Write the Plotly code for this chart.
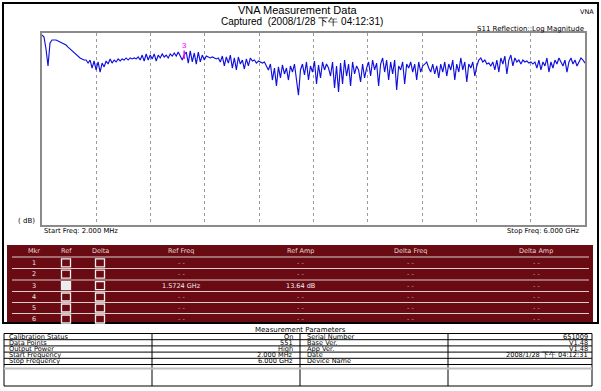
import numpy as np
import plotly.graph_objects as go

W, H = 601, 391

# ---------------- data ----------------
start_mhz = 2.0
stop_mhz = 6000.0
# S11 (return loss, dB), roughly every 2nd sweep point
s11_db = [
    1.2, 2.5, 10.0, 20.6, 6.2, 4.4,
    4.4, 4.4, 5.0, 5.6, 6.2, 6.9, 7.5, 8.8, 10.0, 11.2, 12.5, 13.8, 15.0,
    15.6, 16.2, 16.9, 16.9,
    18.8, 16.9, 21.9, 17.5, 23.1, 18.1, 24.4, 18.8, 21.2, 17.5,
    19.4, 16.2, 18.8, 16.9, 18.1, 16.2, 17.5, 16.2, 16.9, 15.6, 16.9, 15.6, 16.2, 15.6, 16.2, 15.0,
    16.9, 13.8, 17.5, 13.1, 16.9, 13.8, 16.2, 13.1, 17.5, 13.8, 15.6, 13.1, 15.0, 13.8, 15.6, 13.1, 14.4, 12.5, 14.4, 11.9,
    14.4, 16.9, 13.6, 11.9, 18.8, 11.2, 18.1, 12.5, 19.4, 11.9, 18.1, 13.8, 16.9, 14.4,
    15.0, 15.6, 15.0, 15.6, 16.2, 15.6,
    18.1, 14.4, 20.6, 15.0, 18.8, 13.8, 21.9, 15.6, 23.1, 15.0, 19.4, 16.9, 22.5, 16.2, 20.6, 15.6,
    17.5, 16.9, 18.8, 17.5, 18.1, 18.8, 18.1,
    20.6, 23.1, 19.4, 29.4, 21.9, 33.1, 21.2, 28.1, 20.0, 25.6, 21.9, 29.4, 20.6, 24.4, 19.4, 30.6, 38.8, 23.1,
    19.4, 26.2, 18.1, 29.4, 20.6, 24.4, 17.5, 31.9, 20.0, 28.1, 18.1, 23.1, 19.4, 21.9, 26.9, 18.1, 34.4,
    20.6, 36.9, 18.8, 31.9, 16.9, 26.9, 19.4, 33.1, 18.1, 25.6, 20.6, 23.1, 30.6, 19.4, 28.1, 21.9,
    18.1, 26.9, 16.9, 23.1, 18.8, 33.1, 19.4, 15.6, 24.4, 16.9, 29.4, 18.1, 25.6, 16.9, 35.6, 20.6,
    23.1, 18.1, 31.9, 19.4, 21.9, 18.1, 24.4, 19.4, 29.4, 18.1, 24.4, 20.6,
    19.4, 18.1, 21.9, 24.4, 19.4, 25.6, 20.6, 28.1, 19.4, 24.4, 18.1, 26.9, 19.4, 23.1, 16.9, 29.4,
    19.4, 24.4, 15.6, 23.1, 18.1, 30.6, 19.4, 21.9, 18.1, 26.9, 20.6,
    16.9, 15.6, 18.1, 16.9, 19.4, 18.8, 20.6, 18.1, 23.1, 16.9, 24.4, 15.6, 19.4, 14.4, 25.6, 16.9,
    13.8, 20.6, 15.6, 18.1, 16.9, 19.4, 16.9, 18.1, 17.5, 18.8, 18.1,
    19.4, 18.1, 21.9, 16.9, 23.1, 18.1, 20.6, 15.6, 24.4, 18.1, 21.9, 16.9, 19.4, 15.6, 18.1, 20.6,
    16.9, 24.4, 18.1, 15.6, 19.4, 16.9, 20.6, 18.1, 15.6, 16.9, 18.8,
]

marker_ids = ["1", "2", "3", "4", "5", "6"]
marker_ref_on = [False, False, True, False, False, False]
marker_delta_on = [False, False, False, False, False, False]
marker_ref_freq = ["- -", "- -", "1.5724 GHz", "- -", "- -", "- -"]
marker_ref_amp = ["- -", "- -", "13.64 dB", "- -", "- -", "- -"]
marker_delta_freq = ["- -", "- -", "- -", "- -", "- -", "- -"]
marker_delta_amp = ["- -", "- -", "- -", "- -", "- -", "- -"]
active_marker_label = "3"
active_marker_mhz = 1572.4
active_marker_db = 13.64

marker_headers = ["Mkr", "Ref", "Delta", "Ref Freq", "Ref Amp", "Delta Freq", "Delta Amp"]

param_left_labels = ["Calibration Status", "Data Points", "Output Power", "Start Frequency", "Stop Frequency"]
param_left_values = ["On", "551", "High", "2.000 MHz", "6.000 GHz"]
param_right_labels = ["Serial Number", "Base Ver.", "App Ver.", "Date", "Device Name"]
param_right_values = ["651009", "V1.48", "V1.48", "2008/1/28 下午 04:12:31", ""]

FONT = "Liberation Sans, Arial, sans-serif"
FONT_W = "DejaVu Sans, Verdana, sans-serif"


def px(x):
    return x / W


def py(y):
    return 1 - y / H


def txt(x, y, s, size=8, color="black", anchor="center", family=FONT):
    return dict(x=px(x), y=py(y), xref="paper", yref="paper", text=s, showarrow=False,
                xanchor=anchor, yanchor="middle", borderpad=0,
                font=dict(size=size, color=color, family=family))


def rect(x0, y0, x1, y1, line_color="black", width=1, fill=None):
    d = dict(type="rect", xref="paper", yref="paper", x0=px(x0), x1=px(x1), y0=py(y1), y1=py(y0),
             line=dict(color=line_color, width=width))
    if fill:
        d["fillcolor"] = fill
    if width == 0:
        d["line"] = dict(width=0)
    return d


def hline(x0, x1, y, color="black", width=1):
    return dict(type="line", xref="paper", yref="paper", x0=px(x0), x1=px(x1), y0=py(y), y1=py(y),
                line=dict(color=color, width=width))


def vline(x, y0, y1, color="black", width=1):
    return dict(type="line", xref="paper", yref="paper", x0=px(x), x1=px(x), y0=py(y0), y1=py(y1),
                line=dict(color=color, width=width))


freq_mhz = np.linspace(start_mhz, stop_mhz, len(s11_db))

fig = go.Figure()
fig.add_trace(go.Scatter(x=freq_mhz, y=s11_db, mode="lines",
                         line=dict(color="#1010dc", width=1.15), hoverinfo="skip", showlegend=False))
fig.add_trace(go.Scatter(x=[active_marker_mhz], y=[active_marker_db], mode="markers+text",
                         text=[active_marker_label], textposition="top center",
                         textfont=dict(color="#ff00ff", size=8, family=FONT),
                         marker=dict(symbol="line-ns", size=6, line=dict(color="#ff00ff", width=1.5)),
                         hoverinfo="skip", showlegend=False))

shapes = []
ann = []

# outer frame
shapes.append(rect(3, 3, 598, 323, "black", 2))

# header texts
ann.append(txt(297, 10, "VNA Measurement Data", 11))
ann.append(txt(302, 21, "Captured  (2008/1/28 下午 04:12:31)", 10))
ann.append(txt(595, 12, "VNA", 6.5, anchor="right", family=FONT_W))
ann.append(txt(585, 29, "S11 Reflection::Log Magnitude", 7, anchor="right", family=FONT_W))
ann.append(txt(26, 221, "( dB)", 7, family=FONT_W))
ann.append(txt(43, 231, "Start Freq: 2.000 MHz", 6.8, anchor="left", family=FONT_W))
ann.append(txt(581, 231, "Stop Freq: 6.000 GHz", 6.8, anchor="right", family=FONT_W))

# marker table
shapes.append(rect(7, 245, 593, 322, width=0, fill="#6a0a12"))
col_x = [34, 66, 100, 181, 300, 411, 536]
for cx, h in zip(col_x, marker_headers):
    ann.append(txt(cx, 250.5, h, 6.5, "#e4d8d8", family=FONT_W))
row_lines = [257, 268.5, 280, 291.5, 302.5, 313.5]
for yl in row_lines:
    shapes.append(hline(12, 589, yl, "#d8cccc", 1))
row_c = [262.8, 274.2, 285.7, 297, 308, 319]
for i, yc in enumerate(row_c):
    ann.append(txt(col_x[0], yc, marker_ids[i], 6.5, "#ece4e4", family=FONT_W))
    for bx, on in ((col_x[1], marker_ref_on[i]), (col_x[2], marker_delta_on[i])):
        shapes.append(rect(bx - 4.5, yc - 4, bx + 4.5, yc + 4, "#f4f0f0", 1.3,
                           fill="#ececec" if on else None))
    for cx, vals in zip(col_x[3:], (marker_ref_freq, marker_ref_amp, marker_delta_freq, marker_delta_amp)):
        v = vals[i]
        ann.append(txt(cx, yc, v, 6.5, "#c8b4b4" if v.strip() == "- -" else "#f4ecec", family=FONT_W))
# cover under frame bottom
shapes.append(rect(0, 324, 601, 326, width=0, fill="white"))

# parameter table
ann.append(txt(300, 329.5, "Measurement Parameters", 7, family=FONT_W))
top, step = 333.5, 6.2
shapes.append(rect(4, top, 592, 386, "black", 1))
for xv in (152, 300, 448):
    shapes.append(vline(xv, top, 386, "black", 1))
for k in range(1, 6):
    shapes.append(hline(4, 592, top + step * k, "black", 1))
shapes.append(hline(4, 592, top + step * 5 + 4, "#bdbdbd", 2))
for i in range(len(param_left_labels)):
    yc = top + step * (i + 0.5)
    ann.append(txt(8, yc, param_left_labels[i], 6.6, anchor="left", family=FONT_W))
    ann.append(txt(294, yc, param_left_values[i], 6.6, anchor="right", family=FONT_W))
    ann.append(txt(306, yc, param_right_labels[i], 6.6, anchor="left", family=FONT_W))
    ann.append(txt(589, yc, param_right_values[i], 6.6, anchor="right", family=FONT_W))

fig.update_layout(
    width=W, height=H, margin=dict(l=0, r=0, t=0, b=0),
    paper_bgcolor="white", plot_bgcolor="white",
    shapes=shapes, annotations=ann, showlegend=False,
    xaxis=dict(domain=[px(42), px(585)], range=[start_mhz, stop_mhz],
               showline=True, mirror=True, linecolor="#8a8a8a", linewidth=2,
               showgrid=True, gridcolor="#9a9a9a", griddash="dot", gridwidth=1,
               tick0=start_mhz, dtick=(stop_mhz - start_mhz) / 10,
               showticklabels=False, ticks="", zeroline=False, fixedrange=True),
    yaxis=dict(domain=[py(225), py(33)], range=[120, 0],
               showline=True, mirror=True, linecolor="#8a8a8a", linewidth=2,
               showgrid=False, showticklabels=False, ticks="", zeroline=False, fixedrange=True),
)

fig.write_html("out.html", config={"displayModeBar": False},
               post_script="document.body.style.margin='0';document.body.style.overflow='hidden';")
